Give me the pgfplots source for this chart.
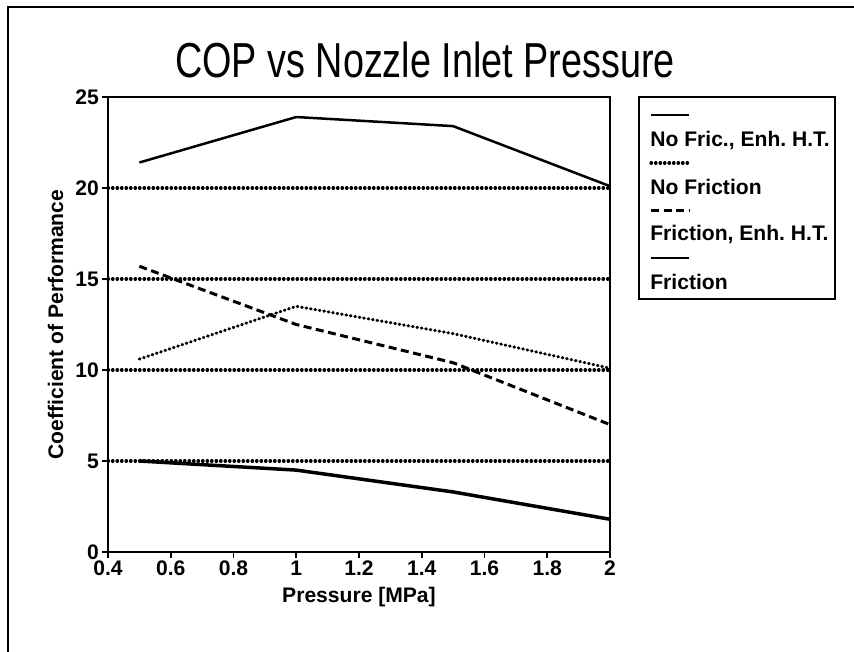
\documentclass[border=0pt]{standalone}
\usepackage{fontspec}
\setmainfont{Liberation Sans}
\usepackage{pgfplots}
\pgfplotsset{compat=1.18}
\frenchspacing

\tikzset{
  dotline/.style={line width=0.62mm, line cap=round, dash pattern=on 0.12mm off 0.78mm},
  dashline/.style={line width=0.6mm, dash pattern=on 1.6mm off 0.9mm},
}

\begin{document}
\begin{tikzpicture}
\begin{scope}[x=0.2mm,y=-0.2mm]
\path[use as bounding box] (0,0) rectangle (854,652);
% scanned page frame (only top and left edges show)
\draw[line width=0.4mm] (8,652) -- (8,7) -- (854,7);
\node[font=\fontsize{21.5}{24}\selectfont] at (425,60)
  {\scalebox{1}[1.3]{COP vs Nozzle Inlet Pressure}};
\end{scope}

\begin{axis}[
    at={(21.6mm,-110.4mm)}, anchor=south west,
    scale only axis, width=100.4mm, height=91mm,
    xmin=0.4, xmax=2, ymin=0, ymax=25,
    xtick={0.4,0.6,0.8,1,1.2,1.4,1.6,1.8,2},
    ytick={0,5,10,15,20,25},
    tick pos=left, tick align=outside, major tick length=1.2mm,
    tick style={line width=0.35mm, black},
    axis line style={line width=0.4mm},
    % dotted grid only between the frame lines
    extra y ticks={5,10,15,20}, extra y tick labels={},
    extra y tick style={grid=major, major tick length=0pt},
    grid style={dotline, black},
    /pgf/number format/assume math mode=true,
    tick label style={font=\bfseries\fontsize{12}{14}\selectfont},
    label style={font=\bfseries\fontsize{12}{14}\selectfont},
    xticklabel style={yshift=0.6mm},
    yticklabel style={xshift=0.6mm},
    xlabel={Pressure [MPa]},
    ylabel={Coefficient of Performance},
    xlabel style={yshift=0.2mm},
    ylabel style={yshift=-1.2mm},
]
% No Fric., Enh. H.T.
\addplot[black, line width=0.5mm] coordinates {(0.5,21.4)(1,23.9)(1.5,23.4)(2,20.1)};
% No Friction
\addplot[black, dotline] coordinates {(0.5,10.6)(1,13.5)(1.5,12.0)(2,10.1)};
% Friction, Enh. H.T.
\addplot[black, dashline] coordinates {(0.5,15.7)(1,12.5)(1.5,10.4)(2,7.0)};
% Friction
\addplot[black, line width=0.7mm] coordinates {(0.5,5.0)(1,4.5)(1.5,3.3)(2,1.8)};
\end{axis}

\begin{scope}[x=0.2mm,y=-0.2mm]
\draw[line width=0.4mm] (639,97) rectangle (835,299);
\draw[line width=0.5mm] (651,115) -- (689,115);
\draw[dotline] (651,163) -- (689,163);
\draw[dashline] (651,211) -- (689,211);
\draw[line width=0.5mm] (651,258) -- (689,258);
\begin{scope}[every node/.style={anchor=west, inner sep=0pt, font=\bfseries\fontsize{12}{14}\selectfont}]
\node at (650,140) {No Fric., Enh. H.T.};
\node at (650,187) {No Friction};
\node at (650,234) {Friction, Enh. H.T.};
\node at (650,282) {Friction};
\end{scope}
\end{scope}
\end{tikzpicture}
\end{document}
